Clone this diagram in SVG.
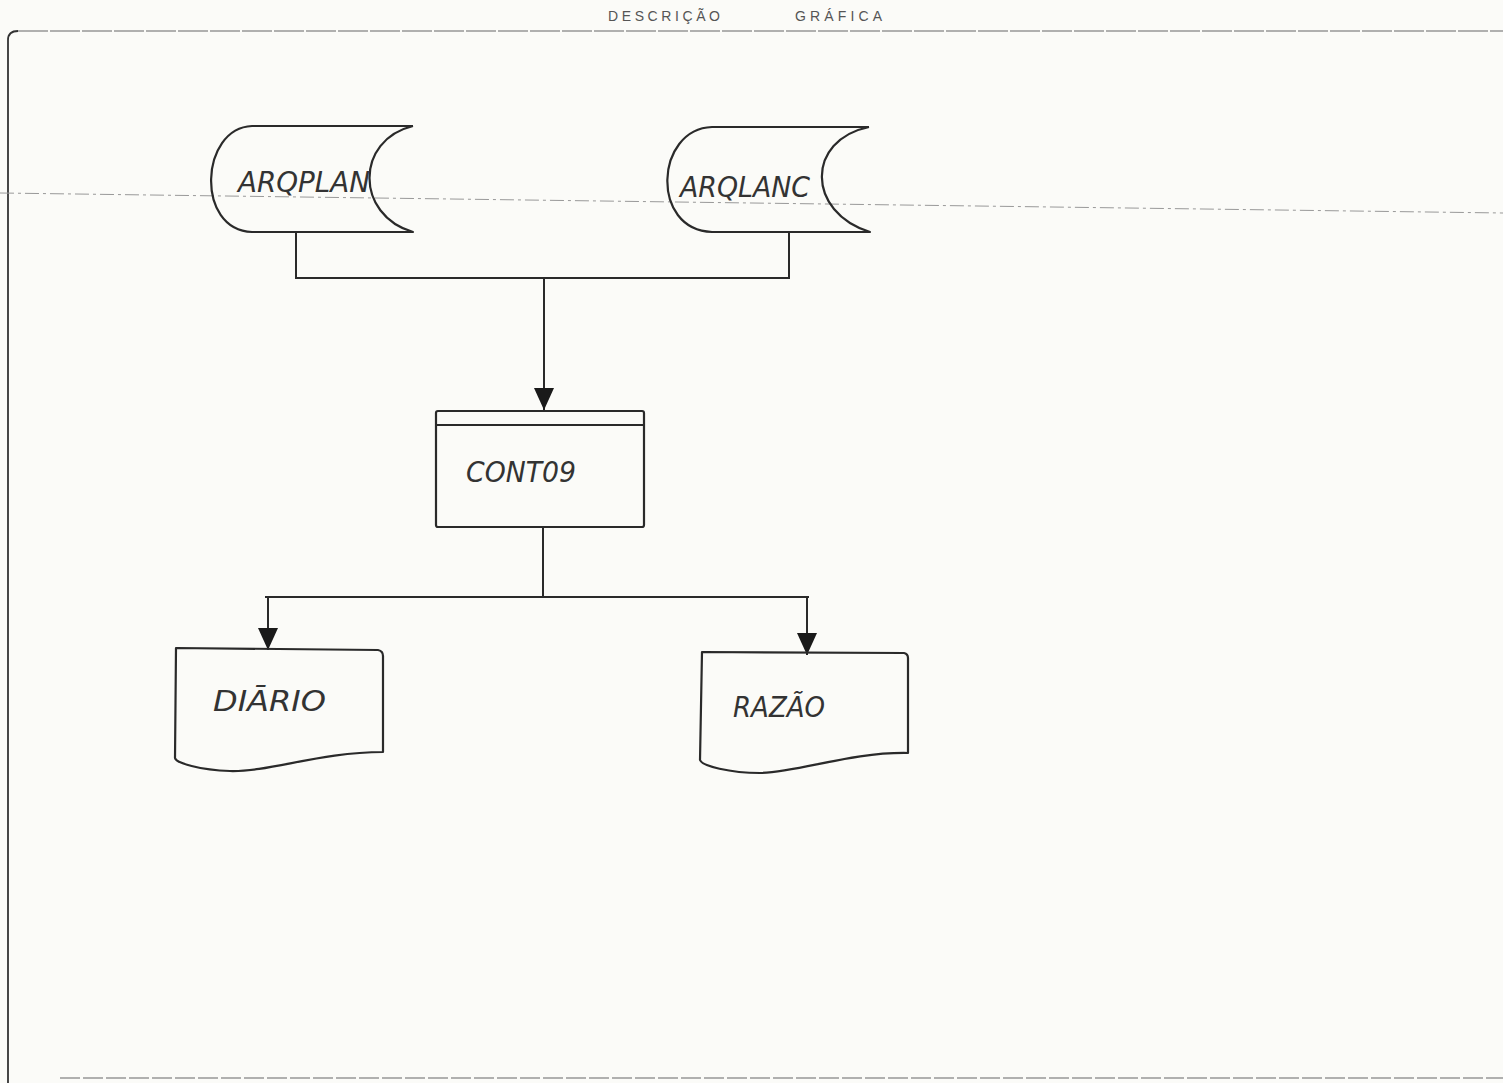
<svg xmlns="http://www.w3.org/2000/svg" width="1503" height="1083" viewBox="0 0 1503 1083">
<style>
.shape{fill:none;stroke:#2a2a2a;stroke-width:2.2;stroke-linejoin:round}
.wire{fill:none;stroke:#2a2a2a;stroke-width:2}
.lbl{font-family:"DejaVu Sans","Liberation Sans",sans-serif;font-style:italic;font-size:29px;fill:#333}
.hdr{font-family:"Liberation Sans",sans-serif;font-size:14px;fill:#555}
.page{fill:none;stroke:#666;stroke-width:1.2}
.edge{fill:none;stroke:#333;stroke-width:1.8}
</style>
<defs>
<marker id="arrb" markerWidth="20" markerHeight="22" refX="10" refY="22" orient="0" markerUnits="userSpaceOnUse" viewBox="0 0 20 22">
<path d="M0,0 L20,0 L10,22 Z" fill="#1a1a1a"/>
</marker>
</defs>
<rect width="1503" height="1083" fill="#fbfbf8"/>
<g id="page">
<path class="edge" d="M8,1083 L8,40 Q8,31 18,31"/>
<path class="page" d="M18,31 L1503,31" stroke-dasharray="30 2"/>
<path d="M0,193 L1503,213" stroke="#999" stroke-width="1" stroke-dasharray="14 4 3 4" fill="none"/>
<path class="page" d="M60,1078 L1503,1078" stroke-dasharray="20 3"/>
<text class="hdr" x="608" y="21" textLength="112" lengthAdjust="spacing">DESCRIÇÃO</text>
<text class="hdr" x="795" y="21" textLength="87" lengthAdjust="spacing">GRÁFICA</text>
</g>
<g id="connectors">
<path class="wire" d="M296,233 L296,278 L789,278 L789,233"/>
<path class="wire" d="M544,278 L544,410" marker-end="url(#arrb)"/>
<path class="wire" d="M543,527 L543,597"/>
<path class="wire" d="M265,597 L809,597"/>
<path class="wire" d="M268,597 L268,650" marker-end="url(#arrb)"/>
<path class="wire" d="M807,597 L807,655" marker-end="url(#arrb)"/>
</g>
<g id="ARQPLAN">
<path class="shape" d="M413,126 L252,126 C200,128 195,230 252,232 L413,232 C355,215 355,140 413,126"/>
<text class="lbl" x="238" y="192" textLength="132" lengthAdjust="spacingAndGlyphs">ARQPLAN</text>
</g>
<g id="ARQLANC">
<path class="shape" d="M869,127 L712,127 C655,129 650,230 712,232 L870,232 C806,212 806,140 869,127"/>
<text class="lbl" x="680" y="197" textLength="130" lengthAdjust="spacingAndGlyphs">ARQLANC</text>
</g>
<g id="CONT09">
<rect class="shape" x="436" y="411" width="208" height="116" rx="2"/>
<line class="shape" x1="436" y1="425" x2="644" y2="425"/>
<text class="lbl" x="466" y="482" textLength="110" lengthAdjust="spacingAndGlyphs">CONT09</text>
</g>
<g id="DIARIO">
<path class="shape" d="M176,648 L378,650 Q383,651 383,656 L383,752 C320,752 270,772 230,771 C200,770 176,763 175,758 Z"/>
<text class="lbl" x="213" y="711" textLength="113" lengthAdjust="spacingAndGlyphs">DIĀRIO</text>
</g>
<g id="RAZAO">
<path class="shape" d="M702,652 L904,653 Q908,654 908,658 L908,753 C850,752 800,772 760,773 C730,773 702,766 700,760 Z"/>
<text class="lbl" x="733" y="717" textLength="92" lengthAdjust="spacingAndGlyphs">RAZÃO</text>
</g>
</svg>
